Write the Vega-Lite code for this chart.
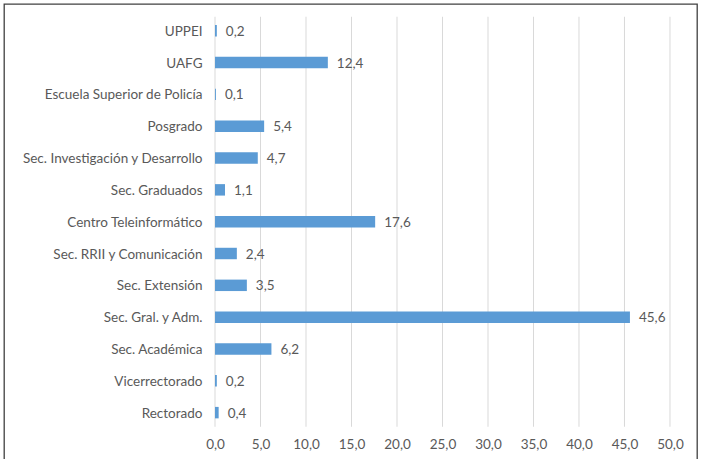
{
  "$schema": "https://vega.github.io/schema/vega-lite/v6.json",
  "width": 693,
  "height": 457,
  "autosize": {"type": "none"},
  "padding": {"left": 4, "top": 4, "right": 4, "bottom": 0},
  "background": "white",
  "config": {
    "locale": {"number": {"decimal": ",", "thousands": ".", "grouping": [3], "currency": ["", " €"]}},
    "view": {"stroke": "#404040", "strokeWidth": 1.3},
    "font": "Lato",
    "axis": {"labelFont": "Lato", "labelColor": "#595959", "labelFontSize": 13.5, "domain": false, "ticks": false, "tickSize": 0, "grid": false, "title": null}
  },
  "datasets": {
    "ticks": [{"v": 0}, {"v": 5}, {"v": 10}, {"v": 15}, {"v": 20}, {"v": 25}, {"v": 30}, {"v": 35}, {"v": 40}, {"v": 45}, {"v": 50}],
    "costs": [
      {"unidad": "UPPEI", "valor": 0.2},
      {"unidad": "UAFG", "valor": 12.4},
      {"unidad": "Escuela Superior de Policía", "valor": 0.1},
      {"unidad": "Posgrado", "valor": 5.4},
      {"unidad": "Sec. Investigación y Desarrollo", "valor": 4.7},
      {"unidad": "Sec. Graduados", "valor": 1.1},
      {"unidad": "Centro Teleinformático", "valor": 17.6},
      {"unidad": "Sec. RRII  y Comunicación", "valor": 2.4},
      {"unidad": "Sec. Extensión", "valor": 3.5},
      {"unidad": "Sec. Gral. y Adm.", "valor": 45.6},
      {"unidad": "Sec. Académica", "valor": 6.2},
      {"unidad": "Vicerrectorado", "valor": 0.2},
      {"unidad": "Rectorado", "valor": 0.4}
    ]
  },
  "layer": [
    {
      "data": {"name": "ticks"},
      "mark": {"type": "tick", "size": 410, "thickness": 1, "color": "#d9d9d9", "opacity": 1},
      "encoding": {
        "x": {
          "field": "v", "type": "quantitative",
          "scale": {"domain": [-23.19, 52.97], "nice": false},
          "axis": {"orient": "bottom", "values": [0, 5, 10, 15, 20, 25, 30, 35, 40, 45, 50], "format": ".1f", "offset": -30, "labelPadding": 6, "labelFlush": false, "labelOverlap": false}
        },
        "y": {
          "datum": "Centro Teleinformático", "type": "nominal",
          "scale": {
            "domain": ["UPPEI", "UAFG", "Escuela Superior de Policía", "Posgrado", "Sec. Investigación y Desarrollo", "Sec. Graduados", "Centro Teleinformático", "Sec. RRII  y Comunicación", "Sec. Extensión", "Sec. Gral. y Adm.", "Sec. Académica", "Vicerrectorado", "Rectorado"],
            "paddingInner": 0.64, "paddingOuter": 1.074, "align": 0.33, "round": false
          },
          "axis": {"orient": "left", "offset": -200, "labelPadding": 2, "labelLimit": 300, "labelOffset": 1}
        }
      }
    },
    {
      "data": {"name": "costs"},
      "mark": {"type": "bar", "color": "#5B9BD5"},
      "encoding": {
        "x": {"field": "valor", "type": "quantitative"},
        "y": {"field": "unidad", "type": "nominal"}
      }
    },
    {
      "data": {"name": "costs"},
      "mark": {"type": "text", "align": "left", "baseline": "middle", "dx": 9, "dy": 1, "color": "#595959", "fontSize": 13.5, "font": "Lato"},
      "encoding": {
        "x": {"field": "valor", "type": "quantitative"},
        "y": {"field": "unidad", "type": "nominal"},
        "text": {"field": "valor", "type": "quantitative", "format": ".1f"}
      }
    }
  ]
}
